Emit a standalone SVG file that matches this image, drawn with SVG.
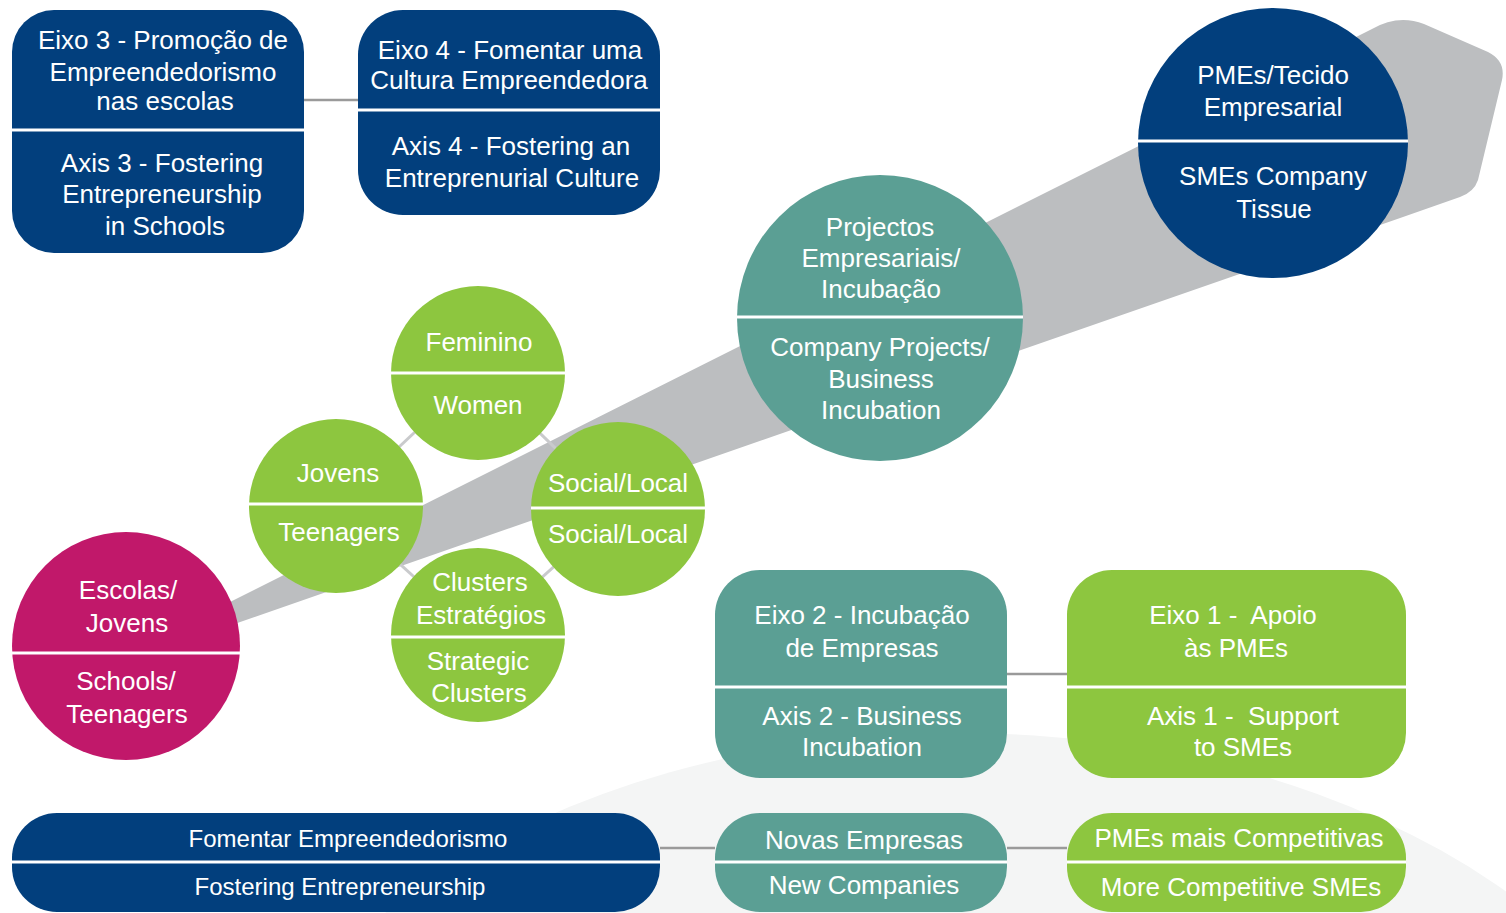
<svg xmlns="http://www.w3.org/2000/svg" width="1506" height="913" viewBox="0 0 1506 913">
<defs>
<style>
.t{font-family:"Liberation Sans",Arial,sans-serif;font-size:26px;fill:#ffffff;text-anchor:middle;}
.s{font-size:24px;}
.blue{fill:#023f7d;}
.teal{fill:#5b9f94;}
.green{fill:#8dc63f;}
.pink{fill:#c1186a;}
.div{stroke:#ffffff;stroke-width:3;}
.link{stroke:#9a9a9a;stroke-width:2.5;fill:none;}
.dia{stroke:#c9cacc;stroke-width:3;fill:none;}
</style>
</defs>
<rect width="1506" height="913" fill="#ffffff"/>
<ellipse cx="960" cy="1250" rx="758" ry="517" fill="#f4f5f5"/>
<path d="M200,617 L1372,29 Q1398,14 1424,24 L1488,52 Q1506,61 1502,80 L1478,180 Q1474,192 1460,197 L1403,217 L200,636 Z" fill="#bcbec0"/>
<g id="connectors">
<line class="link" x1="304" y1="100" x2="358" y2="100"/>
<line class="link" x1="1007" y1="674" x2="1067" y2="674"/>
<line class="link" x1="660" y1="848" x2="715" y2="848"/>
<line class="link" x1="1007" y1="848" x2="1067" y2="848"/>
<line class="dia" x1="336" y1="506" x2="478" y2="373"/>
<line class="dia" x1="478" y1="373" x2="618" y2="509"/>
<line class="dia" x1="336" y1="506" x2="478" y2="635"/>
<line class="dia" x1="478" y1="635" x2="618" y2="509"/>
</g>
<g id="eixo3">
<rect class="blue" x="12" y="10" width="292" height="243" rx="42"/>
<line class="div" x1="12" y1="130" x2="304" y2="130"/>
<text class="t" x="163" y="49">Eixo 3 - Promoção de</text>
<text class="t" x="163" y="81">Empreendedorismo</text>
<text class="t" x="165" y="110">nas escolas</text>
<text class="t" x="162" y="172">Axis 3 - Fostering</text>
<text class="t" x="162" y="203">Entrepreneurship</text>
<text class="t" x="165" y="235">in Schools</text>
</g>
<g id="eixo4">
<rect class="blue" x="358" y="10" width="302" height="205" rx="45"/>
<line class="div" x1="358" y1="110" x2="660" y2="110"/>
<text class="t" x="510" y="59">Eixo 4 - Fomentar uma</text>
<text class="t" x="509" y="89">Cultura Empreendedora</text>
<text class="t" x="511" y="155">Axis 4 - Fostering an</text>
<text class="t" x="512" y="187">Entreprenurial Culture</text>
</g>
<g id="pmes">
<circle class="blue" cx="1273" cy="143" r="135"/>
<line class="div" x1="1138" y1="141" x2="1408" y2="141"/>
<text class="t" x="1273" y="84">PMEs/Tecido</text>
<text class="t" x="1273" y="116">Empresarial</text>
<text class="t" x="1273" y="185">SMEs Company</text>
<text class="t" x="1274" y="218">Tissue</text>
</g>
<g id="projectos">
<circle class="teal" cx="880" cy="318" r="143"/>
<line class="div" x1="737" y1="317" x2="1023" y2="317"/>
<text class="t" x="880" y="236">Projectos</text>
<text class="t" x="881" y="267">Empresariais/</text>
<text class="t" x="881" y="298">Incubação</text>
<text class="t" x="880" y="356">Company Projects/</text>
<text class="t" x="881" y="388">Business</text>
<text class="t" x="881" y="419">Incubation</text>
</g>
<g id="feminino">
<circle class="green" cx="478" cy="373" r="87"/>
<line class="div" x1="391" y1="373" x2="565" y2="373"/>
<text class="t" x="479" y="351">Feminino</text>
<text class="t" x="478" y="414">Women</text>
</g>
<g id="jovens">
<circle class="green" cx="336" cy="506" r="87"/>
<line class="div" x1="249" y1="504" x2="423" y2="504"/>
<text class="t" x="338" y="482">Jovens</text>
<text class="t" x="339" y="541">Teenagers</text>
</g>
<g id="social">
<circle class="green" cx="618" cy="509" r="87"/>
<line class="div" x1="531" y1="508" x2="705" y2="508"/>
<text class="t" x="618" y="492">Social/Local</text>
<text class="t" x="618" y="543">Social/Local</text>
</g>
<g id="clusters">
<circle class="green" cx="478" cy="635" r="87"/>
<line class="div" x1="391" y1="637" x2="565" y2="637"/>
<text class="t" x="480" y="591">Clusters</text>
<text class="t" x="481" y="624">Estratégios</text>
<text class="t" x="478" y="670">Strategic</text>
<text class="t" x="479" y="702">Clusters</text>
</g>
<g id="escolas">
<circle class="pink" cx="126" cy="646" r="114"/>
<line class="div" x1="12" y1="653" x2="240" y2="653"/>
<text class="t" x="128" y="599">Escolas/</text>
<text class="t" x="127" y="632">Jovens</text>
<text class="t" x="126" y="690">Schools/</text>
<text class="t" x="127" y="723">Teenagers</text>
</g>
<g id="eixo2">
<rect class="teal" x="715" y="570" width="292" height="208" rx="45"/>
<line class="div" x1="715" y1="687" x2="1007" y2="687"/>
<text class="t" x="862" y="624">Eixo 2 - Incubação</text>
<text class="t" x="862" y="657">de Empresas</text>
<text class="t" x="862" y="725">Axis 2 - Business</text>
<text class="t" x="862" y="756">Incubation</text>
</g>
<g id="eixo1">
<rect class="green" x="1067" y="570" width="339" height="208" rx="45"/>
<line class="div" x1="1067" y1="687" x2="1406" y2="687"/>
<text class="t" x="1233" y="624" xml:space="preserve">Eixo 1 -  Apoio</text>
<text class="t" x="1236" y="657">às PMEs</text>
<text class="t" x="1243" y="725" xml:space="preserve">Axis 1 -  Support</text>
<text class="t" x="1243" y="756">to SMEs</text>
</g>
<g id="fomentar">
<rect class="blue" x="12" y="813" width="648" height="99" rx="45"/>
<line class="div" x1="12" y1="862" x2="660" y2="862"/>
<text class="t s" x="348" y="847">Fomentar Empreendedorismo</text>
<text class="t s" x="340" y="895">Fostering Entrepreneurship</text>
</g>
<g id="novas">
<rect class="teal" x="715" y="813" width="292" height="99" rx="45"/>
<line class="div" x1="715" y1="862" x2="1007" y2="862"/>
<text class="t" x="864" y="849">Novas Empresas</text>
<text class="t" x="864" y="894">New Companies</text>
</g>
<g id="competitivas">
<rect class="green" x="1067" y="813" width="339" height="99" rx="45"/>
<line class="div" x1="1067" y1="862" x2="1406" y2="862"/>
<text class="t" x="1239" y="847">PMEs mais Competitivas</text>
<text class="t" x="1241" y="896">More Competitive SMEs</text>
</g>
</svg>
